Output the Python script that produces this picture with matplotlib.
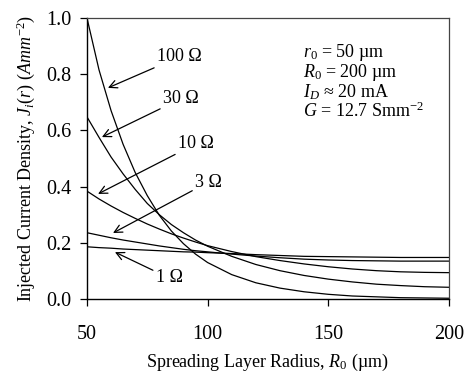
import matplotlib
matplotlib.use("Agg")
import matplotlib.pyplot as plt

plt.rcParams['font.family'] = ['Liberation Serif', 'DejaVu Serif']
plt.rcParams['mathtext.fontset'] = 'custom'
plt.rcParams['mathtext.rm'] = 'Liberation Serif'
plt.rcParams['mathtext.it'] = 'Liberation Serif:italic'

# radius (um)
r = [50, 55, 60, 65, 70, 75, 80, 85, 90, 95, 100, 110, 120, 130, 140,
     150, 160, 170, 180, 190, 200]

# injected current density (A/mm^2) for each sheet resistance
j_1 = [0.186, 0.183, 0.181, 0.178, 0.176, 0.174, 0.172, 0.170, 0.168, 0.167,
       0.165, 0.162, 0.158, 0.155, 0.152, 0.151, 0.150, 0.149, 0.148, 0.148, 0.148]
j_3 = [0.236, 0.227, 0.218, 0.210, 0.203, 0.196, 0.189, 0.183, 0.177, 0.172,
       0.168, 0.160, 0.153, 0.147, 0.142, 0.139, 0.137, 0.136, 0.135, 0.135, 0.135]
j_10 = [0.384, 0.356, 0.331, 0.308, 0.287, 0.267, 0.249, 0.232, 0.217, 0.203,
        0.190, 0.169, 0.151, 0.137, 0.125, 0.115, 0.107, 0.101, 0.097, 0.095, 0.094]
j_30 = [0.648, 0.575, 0.505, 0.445, 0.390, 0.340, 0.300, 0.265, 0.236, 0.210,
        0.188, 0.152, 0.123, 0.101, 0.084, 0.071, 0.061, 0.053, 0.048, 0.044, 0.042]
j_100 = [1.000, 0.815, 0.670, 0.550, 0.450, 0.368, 0.298, 0.242, 0.197, 0.160,
         0.130, 0.087, 0.058, 0.039, 0.026, 0.017, 0.011, 0.008, 0.005, 0.004, 0.003]

labels = ['1 Ω', '3 Ω', '10 Ω', '30 Ω', '100 Ω']
# (text x, text y, arrow tip x, arrow tip y) in data units
label_pos = [(78.5, 0.075, 61.6, 0.167),
             (94.8, 0.416, 60.8, 0.235),
             (87.7, 0.552, 54.6, 0.374),
             (81.5, 0.712, 56.2, 0.576),
             (79.0, 0.861, 58.7, 0.751)]

fig = plt.figure(figsize=(4.7, 3.72), dpi=100)
ax = fig.add_axes([0.185, 0.196, 0.77, 0.756])

for j in [j_1, j_3, j_10, j_30, j_100]:
    ax.plot(r, j, color='black', lw=0.9)

for lab, (tx, ty, ax_, ay) in zip(labels, label_pos):
    ax.annotate(lab, xy=(ax_, ay), xytext=(tx, ty), fontsize=13,
                ha='left', va='center',
                arrowprops=dict(arrowstyle='->', color='black', lw=0.9,
                                shrinkA=0, shrinkB=0, mutation_scale=14))

ax.text(139.5, 0.775,
        '$\\mathit{r_0}$ = 50 µm\n$\\mathit{R_0}$ = 200 µm\n'
        '$\\mathit{I_D}$ ≈ 20 mA\n$G$ = 12.7 Smm$^{-2}$',
        fontsize=13, va='center', ha='left', linespacing=0.95)

ax.set_xlim(50, 200)
ax.set_ylim(0, 1.0)
ax.set_xticks([50, 100, 150, 200])
ax.set_yticks([0.0, 0.2, 0.4, 0.6, 0.8, 1.0])
ax.set_yticklabels(['0.0', '0.2', '0.4', '0.6', '0.8', '1.0'])
ax.tick_params(axis='both', labelsize=14.5, direction='out', length=5, width=0.9)
ax.tick_params(axis='x', pad=14)
ax.tick_params(axis='y', pad=6)

ax.set_xlabel('Spreading Layer Radius, $\\mathit{R_0}$ (µm)', fontsize=13, labelpad=5)
ax.set_ylabel('Injected Current Density, $\\mathit{J_i(r)}$ $\\mathit{(Amm^{-2})}$',
              fontsize=13, labelpad=7)

for s in ['left', 'bottom']:
    ax.spines[s].set_linewidth(1.0)
for s in ['top', 'right']:
    ax.spines[s].set_linewidth(0.9)
    ax.spines[s].set_color('#444444')

fig.savefig('out.png', dpi=100)
